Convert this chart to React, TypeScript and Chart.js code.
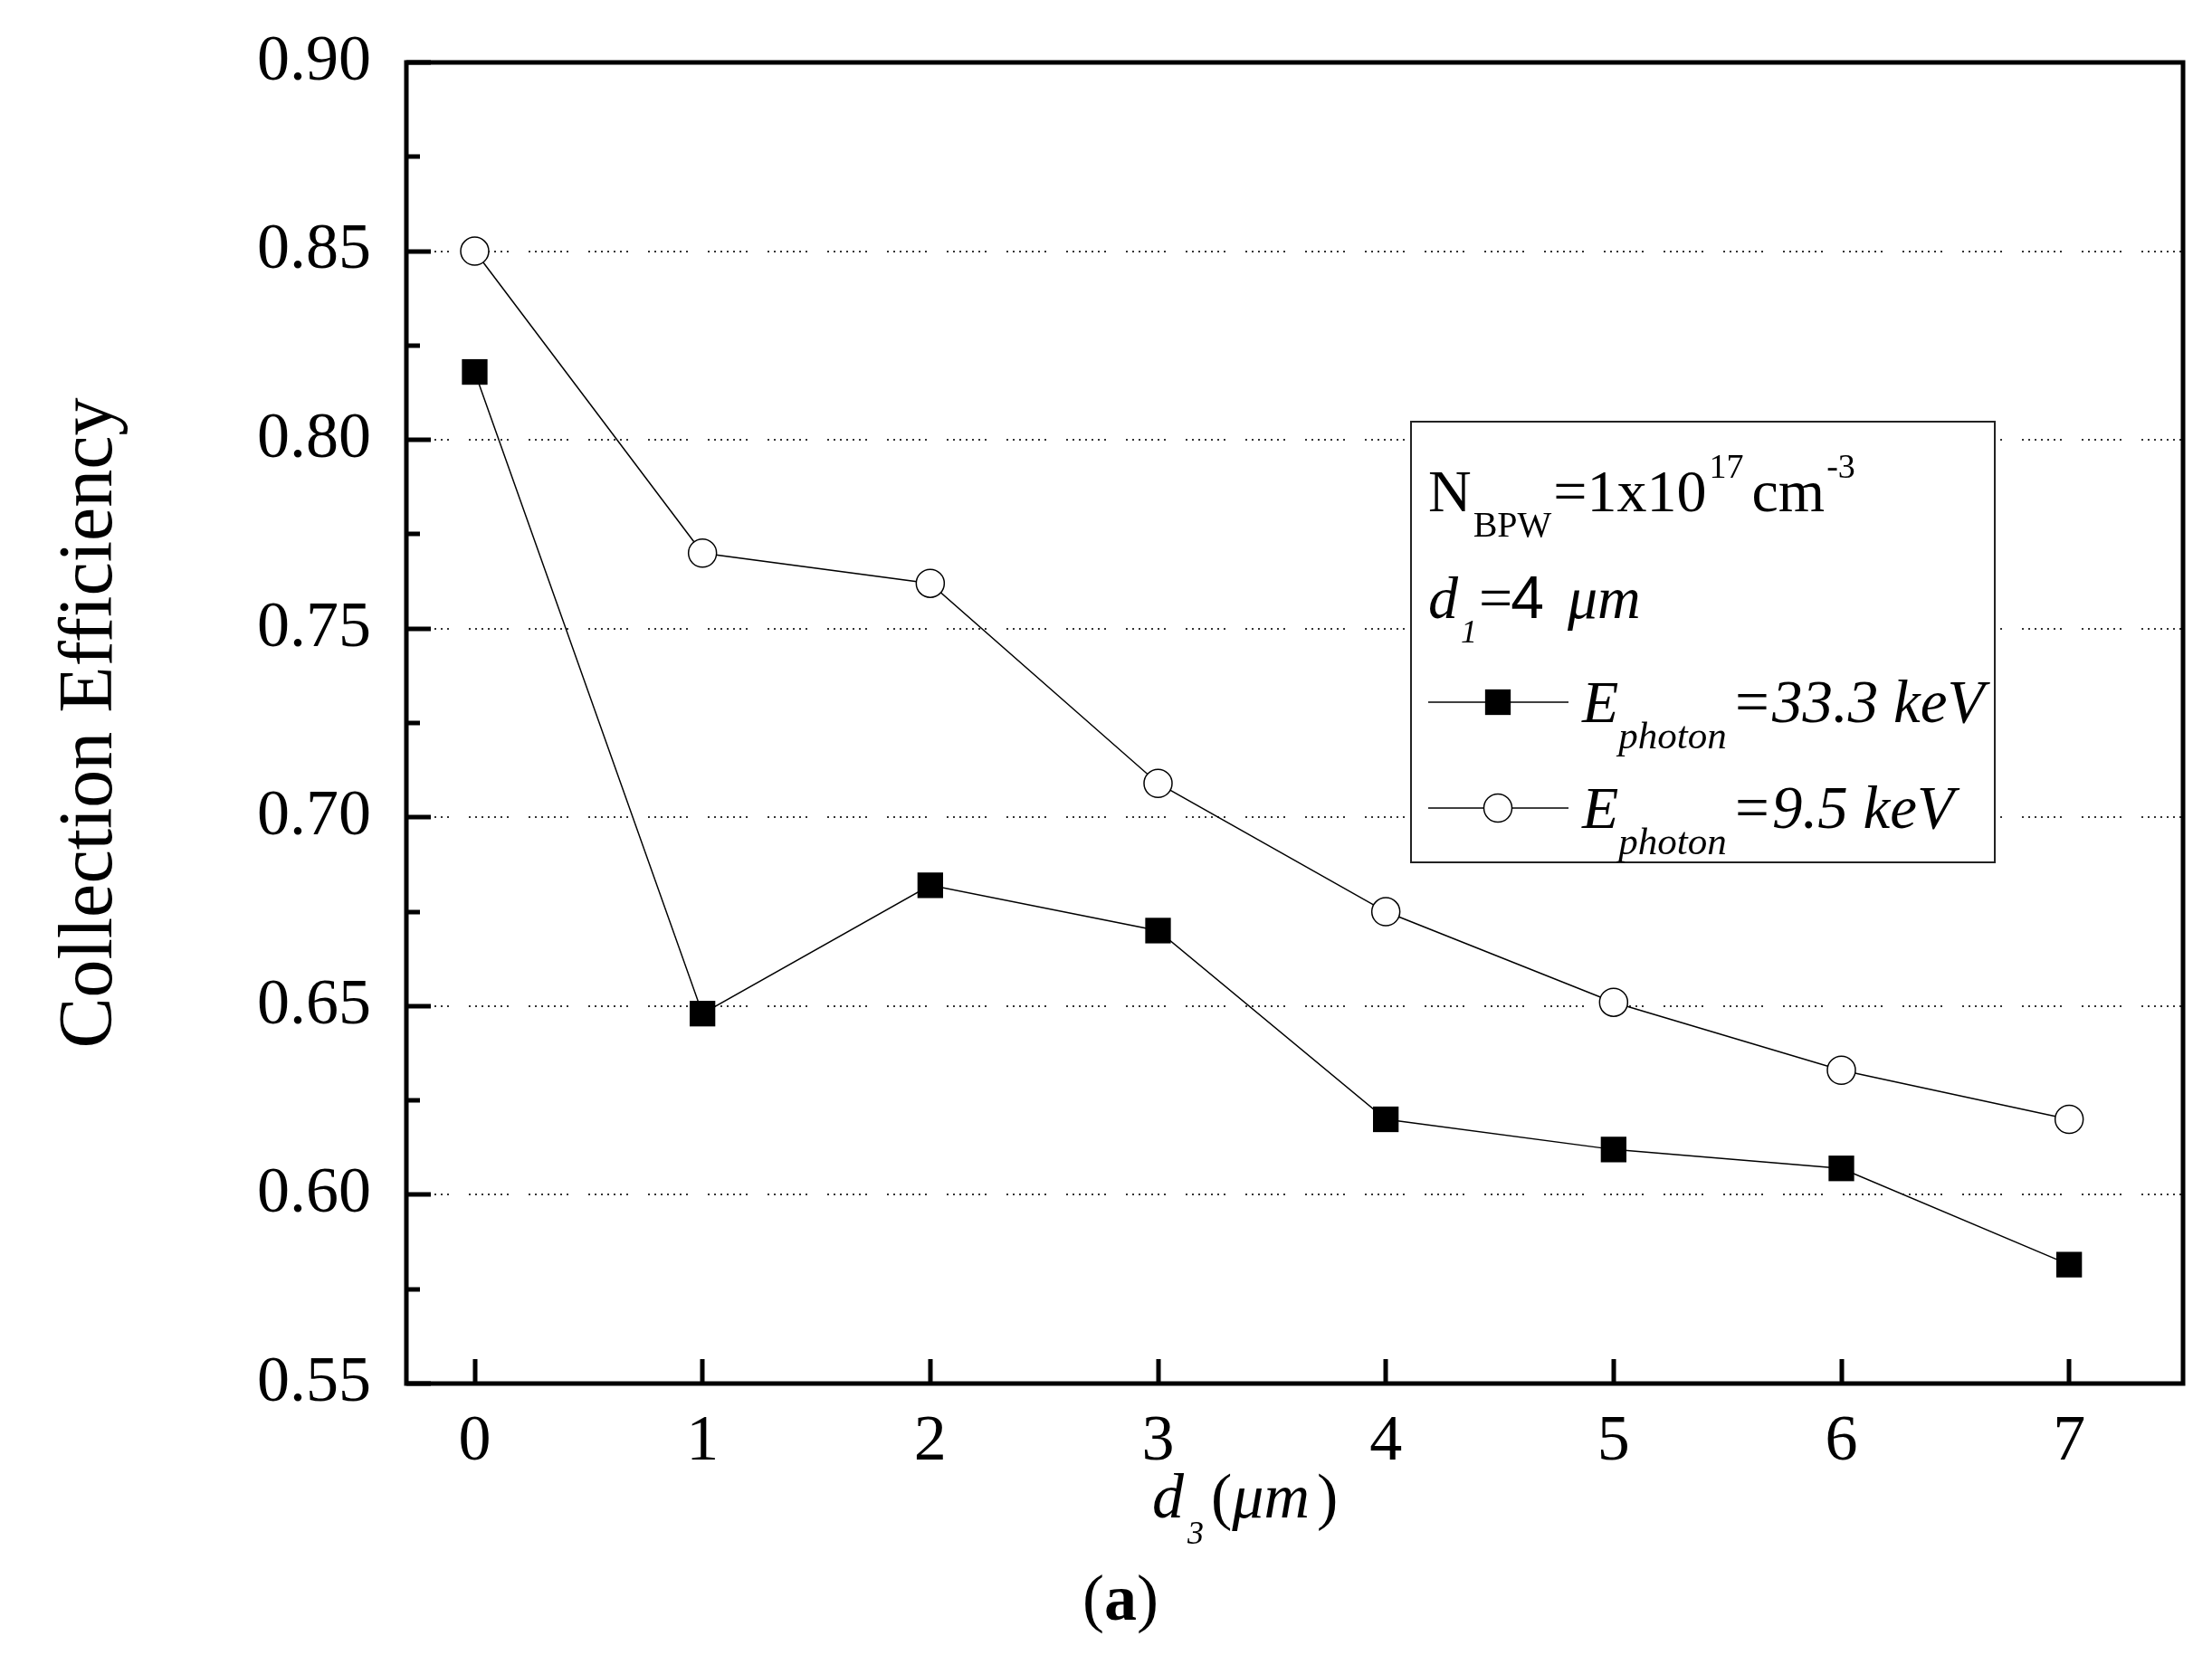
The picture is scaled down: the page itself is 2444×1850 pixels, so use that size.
import React, { useEffect, useRef } from 'react';
import { Chart, registerables } from 'chart.js';

Chart.register(...registerables);

// ---------------- data ----------------
const d3Values = [0, 1, 2, 3, 4, 5, 6, 7];
const efficiency33keV = [0.818, 0.648, 0.682, 0.67, 0.62, 0.612, 0.607, 0.5815];
const efficiency9keV = [0.85, 0.77, 0.762, 0.709, 0.675, 0.651, 0.633, 0.62];
const yMajorTicks = [0.55, 0.6, 0.65, 0.7, 0.75, 0.8, 0.85, 0.9];
const yMinorTicks = [0.575, 0.625, 0.675, 0.725, 0.775, 0.825, 0.875];
const yGridValues = [0.6, 0.65, 0.7, 0.75, 0.8, 0.85];
const xMajorTicks = [0, 1, 2, 3, 4, 5, 6, 7];
const seriesNames = ['E_photon=33.3 keV', 'E_photon=9.5 keV'];
const yTitle = 'Collection Efficiency';

const SERIF = '"Liberation Serif", "Times New Roman", serif';
const SANS = '"Liberation Sans", Arial, sans-serif';

type Seg = {
  t: string;
  size: number;
  italic?: boolean;
  bold?: boolean;
  dy?: number;
  gap?: number;
  family?: string;
};

function segFont(s: Seg) {
  return `${s.italic ? 'italic ' : ''}${s.bold ? 'bold ' : ''}${s.size}px ${s.family || SERIF}`;
}

function richWidth(ctx: CanvasRenderingContext2D, segs: Seg[]) {
  let w = 0;
  for (const s of segs) {
    w += s.gap || 0;
    ctx.font = segFont(s);
    w += ctx.measureText(s.t).width;
  }
  return w;
}

function drawRich(ctx: CanvasRenderingContext2D, x: number, y: number, segs: Seg[]) {
  let cx = x;
  ctx.textAlign = 'left';
  ctx.textBaseline = 'alphabetic';
  for (const s of segs) {
    cx += s.gap || 0;
    ctx.font = segFont(s);
    ctx.fillText(s.t, cx, y + (s.dy || 0));
    cx += ctx.measureText(s.t).width;
  }
  return cx;
}

const DOTS = [2, 5, 2, 5, 2, 5, 2, 5, 2, 5, 2, 5, 2, 22];

const framePlugin = {
  id: 'originFrame',
  beforeDatasetsDraw(chart: any) {
    const { ctx, chartArea: ca, scales } = chart;
    const y = scales.y;
    ctx.save();
    ctx.strokeStyle = '#333';
    ctx.lineWidth = 2;
    ctx.setLineDash(DOTS);
    for (const v of yGridValues) {
      const py = Math.round(y.getPixelForValue(v));
      ctx.beginPath();
      ctx.moveTo(ca.left + 3, py);
      ctx.lineTo(ca.right, py);
      ctx.stroke();
    }
    ctx.restore();
  },
  afterDatasetsDraw(chart: any) {
    const { ctx, chartArea: ca, scales } = chart;
    const xs = scales.x;
    const ys = scales.y;
    ctx.save();

    // ---- legend box ----
    const bx = 1559, by = 466, bw = 2204 - 1559, bh = 953 - 466;
    ctx.fillStyle = '#fff';
    ctx.fillRect(bx, by, bw, bh);
    ctx.strokeStyle = '#222';
    ctx.lineWidth = 2;
    ctx.strokeRect(bx, by, bw, bh);
    ctx.fillStyle = '#000';

    drawRich(ctx, 1578, 565, [
      { t: 'N', size: 66 },
      { t: 'BPW', size: 40, dy: 28, gap: 2 },
      { t: '=1x10', size: 66, gap: 2 },
      { t: '17', size: 38, dy: -37, gap: 3 },
      { t: 'cm', size: 66, gap: 9 },
      { t: '-3', size: 38, dy: -37, gap: 2 },
    ]);
    drawRich(ctx, 1578, 683, [
      { t: 'd', size: 66, italic: true },
      { t: '1', size: 36, italic: true, dy: 27, gap: 3 },
      { t: '=', size: 66, gap: 2 },
      { t: '4', size: 66, family: SANS, gap: -2 },
      { t: 'μm', size: 66, italic: true, gap: 26 },
    ]);

    const ds0 = chart.data.datasets[0];
    const ds1 = chart.data.datasets[1];
    const rows = [
      { y: 776, ds: ds0, value: '=33.3 keV' },
      { y: 893, ds: ds1, value: '=9.5 keV' },
    ];
    for (const r of rows) {
      ctx.strokeStyle = r.ds.borderColor;
      ctx.lineWidth = r.ds.borderWidth;
      ctx.setLineDash([]);
      ctx.beginPath();
      ctx.moveTo(1578, r.y);
      ctx.lineTo(1733, r.y);
      ctx.stroke();
      const cx = 1655;
      const rad = r.ds.pointRadius;
      if (r.ds.pointStyle === 'rect') {
        const half = rad * Math.SQRT1_2;
        ctx.fillStyle = r.ds.pointBackgroundColor;
        ctx.fillRect(cx - half, r.y - half, 2 * half, 2 * half);
      } else {
        ctx.beginPath();
        ctx.arc(cx, r.y, rad, 0, Math.PI * 2);
        ctx.fillStyle = r.ds.pointBackgroundColor;
        ctx.fill();
        ctx.lineWidth = r.ds.pointBorderWidth;
        ctx.strokeStyle = r.ds.pointBorderColor;
        ctx.stroke();
      }
      ctx.fillStyle = '#000';
      drawRich(ctx, 1748, r.y + 22, [
        { t: 'E', size: 66, italic: true },
        { t: 'photon', size: 43, italic: true, dy: 29, gap: 0 },
        { t: r.value, size: 67, italic: true, gap: 5 },
      ]);
    }

    // ---- frame ----
    ctx.strokeStyle = '#000';
    ctx.lineWidth = 5;
    ctx.setLineDash([]);
    ctx.strokeRect(ca.left, ca.top, ca.right - ca.left, ca.bottom - ca.top);

    // ---- inward ticks ----
    ctx.lineWidth = 5;
    for (const v of yMajorTicks) {
      const py = Math.round(ys.getPixelForValue(v));
      ctx.beginPath();
      ctx.moveTo(ca.left, py);
      ctx.lineTo(ca.left + 27, py);
      ctx.stroke();
    }
    for (const v of yMinorTicks) {
      const py = Math.round(ys.getPixelForValue(v));
      ctx.beginPath();
      ctx.moveTo(ca.left, py);
      ctx.lineTo(ca.left + 15, py);
      ctx.stroke();
    }
    for (const v of xMajorTicks) {
      const px = Math.round(xs.getPixelForValue(v));
      ctx.beginPath();
      ctx.moveTo(px, ca.bottom);
      ctx.lineTo(px, ca.bottom - 27);
      ctx.stroke();
    }
    ctx.restore();
  },
  afterDraw(chart: any) {
    const { ctx } = chart;
    ctx.save();
    ctx.fillStyle = '#000';
    // x axis title  d3(μm)
    drawRich(ctx, 1273, 1677, [
      { t: 'd', size: 70, italic: true },
      { t: '3', size: 36, italic: true, dy: 29, gap: 4 },
      { t: '(', size: 70, gap: 8 },
      { t: 'μm', size: 70, italic: true, gap: 0 },
      { t: ')', size: 70, gap: 8 },
    ]);
    // caption (a)
    const cap: Seg[] = [
      { t: '(', size: 72 },
      { t: 'a', size: 72, bold: true },
      { t: ')', size: 72 },
    ];
    const w = richWidth(ctx, cap);
    drawRich(ctx, 1238 - w / 2, 1790, cap);
    ctx.restore();
  },
};

function zeroPadding(s: any) {
  s.paddingTop = 0;
  s.paddingBottom = 0;
  s.paddingLeft = 0;
  s.paddingRight = 0;
}

export default function App() {
  const ref = useRef<HTMLCanvasElement | null>(null);

  useEffect(() => {
    if (!ref.current) return;
    const chart = new Chart(ref.current, {
      type: 'line',
      data: {
        datasets: [
          {
            label: seriesNames[0],
            data: d3Values.map((x, i) => ({ x, y: efficiency33keV[i] })),
            borderColor: '#000',
            borderWidth: 1.5,
            pointStyle: 'rect',
            pointRadius: 20,
            pointBackgroundColor: '#000',
            pointBorderColor: '#000',
            pointBorderWidth: 0,
            fill: false,
            tension: 0,
          } as any,
          {
            label: seriesNames[1],
            data: d3Values.map((x, i) => ({ x, y: efficiency9keV[i] })),
            borderColor: '#000',
            borderWidth: 1.5,
            pointStyle: 'circle',
            pointRadius: 15.5,
            pointBackgroundColor: '#fff',
            pointBorderColor: '#000',
            pointBorderWidth: 1.5,
            fill: false,
            tension: 0,
          } as any,
        ],
      },
      options: {
        responsive: false,
        devicePixelRatio: 1,
        animation: false,
        events: [],
        layout: { padding: { top: 69, right: 32, left: 0, bottom: 0 } },
        plugins: {
          legend: { display: false },
          tooltip: { enabled: false },
          title: { display: false },
        },
        scales: {
          x: {
            type: 'linear',
            min: -0.3,
            max: 7.5,
            afterBuildTicks: (s: any) => {
              s.ticks = xMajorTicks.map((v) => ({ value: v }));
            },
            afterFit: (s: any) => {
              s.height = 321;
              zeroPadding(s);
            },
            grid: { display: false, drawTicks: false },
            border: { display: false },
            ticks: {
              autoSkip: false,
              maxRotation: 0,
              padding: 22,
              color: '#000',
              font: { family: SERIF, size: 72 },
              callback: (v: any) => String(v),
            },
          },
          y: {
            type: 'linear',
            min: 0.55,
            max: 0.9,
            afterBuildTicks: (s: any) => {
              s.ticks = yMajorTicks.map((v) => ({ value: v }));
            },
            afterFit: (s: any) => {
              s.width = 449;
              zeroPadding(s);
            },
            grid: { display: false, drawTicks: false },
            border: { display: false },
            title: {
              display: true,
              text: yTitle,
              color: '#000',
              font: { family: SERIF, size: 84 },
              padding: { top: 51, bottom: 0 },
            },
            ticks: {
              autoSkip: false,
              padding: 39,
              color: '#000',
              font: { family: SERIF, size: 72 },
              callback: (v: any) => Number(v).toFixed(2),
            },
          },
        },
      } as any,
      plugins: [framePlugin],
    });
    return () => chart.destroy();
  }, []);

  return (
    <div style={{ position: 'absolute', left: 0, top: 0, width: 2444, height: 1850, background: '#fff' }}>
      <canvas ref={ref} width={2444} height={1850} style={{ display: 'block' }} />
    </div>
  );
}
